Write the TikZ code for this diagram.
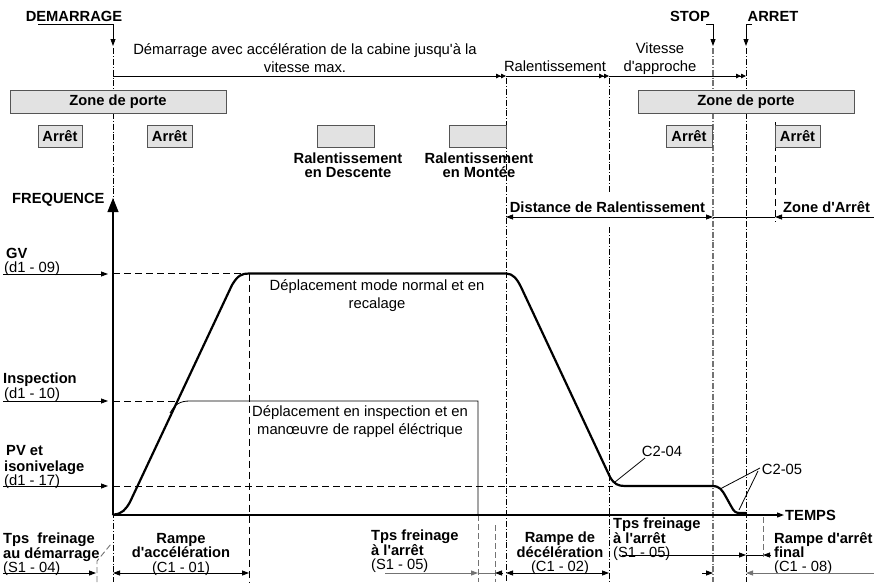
\documentclass[tikz,border=0pt]{standalone}
\usepackage{fontspec}
\setmainfont{Liberation Sans}[Ligatures=TeXOff]
\usetikzlibrary{arrows.meta}
\definecolor{boxgray}{RGB}{226,226,226}
\definecolor{edgegray}{RGB}{85,85,85}
\definecolor{dashgray}{RGB}{115,115,115}

\begin{document}
\begin{tikzpicture}[x=1pt, y=-1pt,
    txt/.style={font=\fontsize{14.8}{18}\selectfont, inner sep=0pt},
    btxt/.style={font=\fontsize{14.7}{14.4}\selectfont\bfseries, inner sep=0pt},
    zone/.style={draw=edgegray, fill=boxgray, line width=0.9pt, inner sep=0pt,
                 font=\fontsize{14.7}{14.4}\selectfont\bfseries},
    evt/.style={line width=0.6pt, dash pattern=on 6pt off 2pt on 0.8pt off 2pt},
    stopline/.style={draw=dashgray, line width=1.1pt, dash pattern=on 6pt off 2pt on 0.8pt off 2pt},
    guide/.style={line width=0.7pt, dash pattern=on 7pt off 4pt},
    greyguide/.style={draw=dashgray, line width=0.9pt, dash pattern=on 6pt off 3pt},
    thin/.style={line width=0.8pt},
    tip/.style={-{Triangle[length=7pt,width=5pt]}},
    twotip/.style={{Triangle[length=7pt,width=5pt]}-{Triangle[length=7pt,width=5pt]}},
    dbl/.style={-{Triangle[length=5pt,width=4.5pt] Triangle[length=5pt,width=4.5pt]}},
    profile/.style={line width=2.2pt, line join=round, line cap=round},
]
\useasboundingbox (0,0) rectangle (874,587);

% Event lines
\draw[evt] (113,48) -- (113,582);
\draw[evt] (506,78) -- (506,582);
\draw[evt] (609,78) -- (609,192);
\draw[evt] (609,227) -- (609,582);
\draw[stopline] (713,48) -- (713,582);
\draw[evt] (746,48) -- (746,582);
\draw[guide] (775,122) -- (775,222);
\draw[guide] (249,273.5) -- (249,582);
\draw[greyguide] (478,515) -- (478,582);
\draw[greyguide] (495,525) -- (495,582);
\draw[greyguide] (763,517) -- (763,557);
\draw[greyguide] (97,582) -- (97,561) -- (111,544);

% Start, stop and arrival
\node[btxt, anchor=base] (demarrage) at (74,21) {DEMARRAGE};
\node[btxt, anchor=base] (stop) at (690,21) {STOP};
\node[btxt, anchor=base] (arret) at (773,21) {ARRET};
\coordinate (dem hook) at (38,24);
\coordinate (stop hook) at (706,24);
\coordinate (arret hook) at (752,24);
\draw[thin, tip] (dem hook) -- (113,24) -- (113,46);
\draw[thin, tip] (stop hook) -- (713,24) -- (713,46);
\draw[thin, tip] (arret hook) -- (746,24) -- (746,46);

% Phases
\draw[thin, dbl] (113,76) -- (506,76);
\draw[thin, dbl] (506,76) -- (609,76);
\draw[thin, dbl] (609,76) -- (746,76);
\node[txt, align=center, anchor=north] (phase acc) at (305,43.5)
    {Démarrage avec accélération de la cabine jusqu'à la\\vitesse max.};
\node[txt, anchor=base] (phase ral) at (555,71) {Ralentissement};
\node[txt, align=center, anchor=north] (phase app) at (660,43) {Vitesse\\d'approche};

% Door zones and stops
\node[zone, minimum width=216pt, minimum height=23pt] (porte left) at (118,101.5) {Zone de porte};
\node[zone, minimum width=216pt, minimum height=23pt] (porte right) at (746,101.5) {Zone de porte};
\node[zone, minimum width=44pt, minimum height=22pt] (arret a) at (60,136) {Arrêt};
\node[zone, minimum width=45pt, minimum height=22pt] (arret b) at (169.5,136) {Arrêt};
\node[zone, minimum width=46pt, minimum height=22pt] (arret c) at (689,136) {Arrêt};
\node[zone, minimum width=45pt, minimum height=22pt] (arret d) at (797.5,136) {Arrêt};
\node[zone, minimum width=57pt, minimum height=22pt] (ral desc) at (345.5,136) {};
\node[zone, minimum width=57pt, minimum height=22pt] (ral mont) at (477.5,136) {};
\node[btxt, align=center, anchor=north] (ral desc txt) at (348,152.5) {Ralentissement\\en Descente};
\node[btxt, align=center, anchor=north] (ral mont txt) at (479,152.5) {Ralentissement\\en Montée};

% Slowing distance
\node[btxt, anchor=base] (distance) at (607.5,212) {Distance de Ralentissement};
\node[btxt, anchor=base west] (zone arret) at (783,212) {Zone d'Arrêt};
\draw[thin, twotip] (506,217) -- (713,217);
\draw[thin] (713,217) -- (775,217);
\draw[thin, tip] (874,217) -- (775,217);

% Axes
\draw[line width=1.1pt, -{Triangle[length=14pt,width=11pt]}] (113,515) -- (113,198);
\draw[line width=1.1pt, tip] (113,515) -- (784,515);
\node[btxt, anchor=base west] (frequence) at (12,203) {FREQUENCE};
\node[btxt, anchor=base west] (temps) at (785,520) {TEMPS};

% Speed levels
\node[btxt, anchor=base west] (gv) at (6,258.5) {GV};
\node[txt, anchor=base west] (gv code) at (4,272) {(d1 - 09)};
\node[btxt, anchor=base west] (insp) at (3,383.5) {Inspection};
\node[txt, anchor=base west] (insp code) at (4,398.5) {(d1 - 10)};
\node[btxt, anchor=base west] (pv) at (6,455) {PV et};
\node[btxt, anchor=base west] (iso) at (4,471.5) {isonivelage};
\node[txt, anchor=base west] (pv code) at (4,485) {(d1 - 17)};
\draw[thin, tip] (3,274) -- (108,274);
\draw[thin, tip] (3,401) -- (108,401);
\draw[thin, tip] (3,486) -- (108,486);
\draw[guide] (113,273.5) -- (242,273.5);
\draw[guide] (113,401) -- (176,401);
\draw[guide] (113,486) -- (613,486);

% Inspection run
\draw[thin] (170,413) .. controls (175,404) and (180,401) .. (190,401) -- (478,401) -- (478,515);
\node[txt, align=center, anchor=north] (insp run) at (360,405)
    {Déplacement en inspection et en\\manœuvre de rappel éléctrique};

% Normal run
\draw[profile] (113,514.5) .. controls (122,514.5) and (126,509) .. (130,502)
    -- (232,285) .. controls (238,275) and (242,273.5) .. (249,273.5)
    -- (506,273.5) .. controls (513,273.5) and (517,279) .. (521,287)
    -- (610,477) .. controls (614,484) and (618,486) .. (625,486)
    -- (712,486) .. controls (720,486) and (722,490) .. (726,497)
    -- (731,506) .. controls (734,512) and (736,513) .. (740,513) -- (746,513);
\node[txt, align=center, anchor=north] (normal run) at (377,279)
    {Déplacement mode normal et en\\recalage};

% Curve parameters
\node[txt, anchor=base] (c204) at (662,456) {C2-04};
\node[txt, anchor=base] (c205) at (782,474) {C2-05};
\draw[thin] (645,458) -- (615,482);
\draw[thin] (760,468) -- (720,489);
\draw[thin] (758,471) -- (739,510);

% Time parameters
\node[btxt, align=left, anchor=north west] (s104) at (3,533)
    {Tps\ \ freinage\\au démarrage\\{\mdseries (S1 - 04)}};
\node[btxt, align=center, anchor=north] (c101) at (181,533)
    {Rampe\\d'accélération\\{\mdseries (C1 - 01)}};
\node[btxt, align=left, anchor=north west] (s105a) at (371,530)
    {Tps freinage\\à l'arrêt\\{\mdseries (S1 - 05)}};
\node[btxt, align=center, anchor=north] (c102) at (560,532)
    {Rampe de\\décélération\\{\mdseries (C1 - 02)}};
\node[btxt, align=left, anchor=north west] (s105b) at (613,518)
    {Tps freinage\\à l'arrêt\\{\mdseries (S1 - 05)}};
\node[btxt, align=left, anchor=north west] (c108) at (774,532)
    {Rampe d'arrêt\\final\\{\mdseries (C1 - 08)}};

\draw[thin, tip] (3,573) -- (96,573);
\draw[thin, twotip] (113,573) -- (249,573);
\draw[thin, draw=dashgray, tip] (385,573) -- (478,573);
\draw[thin, draw=dashgray] (478,573) -- (495,573);
\draw[thin, tip] (503,573) -- (495,573);
\draw[thin, twotip] (506,573) -- (609,573);
\draw[thin, tip] (622,555) -- (746,555);
\draw[thin] (746,555) -- (763,555);
\draw[thin, tip] (770,555) -- (763,555);
\draw[thin, tip] (702,573) -- (713,573);
\draw[thin, draw=dashgray, tip] (874,573) -- (746,573);
\end{tikzpicture}
\end{document}
